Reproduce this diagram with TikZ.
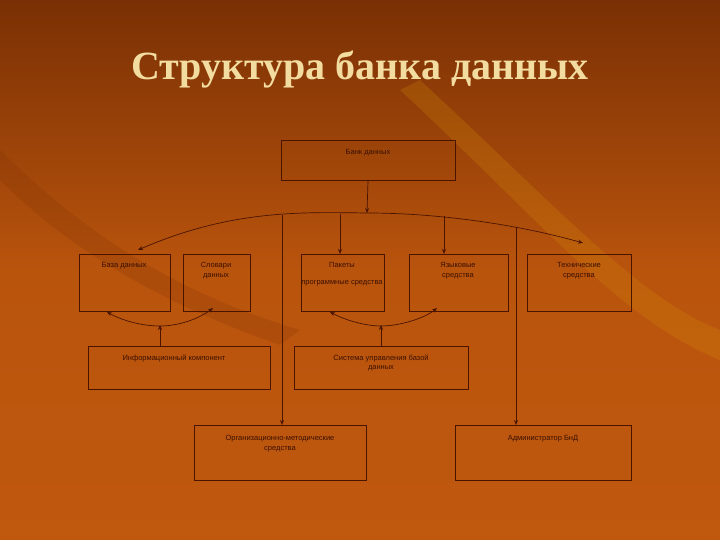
\documentclass[tikz,border=0pt]{standalone}
\usepackage{fontspec}
\setmainfont{Liberation Serif}
\newfontfamily\boxfont{Liberation Sans}
\usetikzlibrary{arrows.meta}
\definecolor{bgtop}{HTML}{7A3004}
\definecolor{bgbot}{HTML}{C0580E}
\definecolor{ln}{HTML}{4A1400}
\definecolor{ttl}{HTML}{F3DCA0}
\begin{document}
\begin{tikzpicture}[x=1pt,y=-1pt,
  bx/.style={draw=ln,line width=1pt,minimum height=0pt},
  tx/.style={font=\boxfont\fontsize{7.5}{9.5}\selectfont,text=ln!80!black,align=center},
  con/.style={draw=ln,line width=0.7pt},
  arr/.style={con,-{Stealth[length=5pt,width=4pt]}},
  darr/.style={con,{Stealth[length=5pt,width=4pt]}-{Stealth[length=5pt,width=4pt]}}]
\useasboundingbox (0,0) rectangle (720,540);
\shade[top color=bgtop,bottom color=bgbot,middle color=bgbot!90!bgtop] (0,0) rectangle (720,540);
\fill[bgbot!70!yellow,opacity=0.25] (420,80) .. controls (550,200) and (640,300) .. (720,330) -- (720,360) .. controls (620,320) and (540,220) .. (400,90) -- cycle;
\fill[bgtop,opacity=0.2] (0,150) .. controls (100,250) and (200,300) .. (300,330) -- (280,345) .. controls (180,310) and (80,260) .. (0,180) -- cycle;
\node[font=\fontsize{40}{44}\selectfont\bfseries,text=ttl] (title) at (360,70) {Структура банка данных};
% boxes
\draw[bx] (281,141) rectangle (455,181); \node[tx,anchor=north] (t0) at (368,146) {Банк данных};
\draw[bx] (79,254) rectangle (170,311); \node[tx,anchor=north] (tA) at (124,259) {База данных};
\draw[bx] (183,254) rectangle (250,311); \node[tx,anchor=north] (tB) at (216,259) {Словари\\данных};
\draw[bx] (301,254) rectangle (384,311); \node[tx,anchor=north] (tC) at (342,259) {Пакеты\\[7pt]программные средства};
\draw[bx] (409,254) rectangle (508,311); \node[tx,anchor=north] (tD) at (458,259) {Языковые\\средства};
\draw[bx] (527,254) rectangle (631,311); \node[tx,anchor=north] (tE) at (579,259) {Технические\\средства};
\draw[bx] (88,346) rectangle (270,389); \node[tx,anchor=north] (tF) at (174,351) {Информационный компонент};
\draw[bx] (294,346) rectangle (468,389); \node[tx,anchor=north] (tG) at (381,351) {Система управления базой\\данных};
\draw[bx] (194,425) rectangle (366,480); \node[tx,anchor=north] (tH) at (280,432) {Организационно-методические\\средства};
\draw[bx] (455,425) rectangle (631,480); \node[tx,anchor=north] (tI) at (543,432) {Администратор БнД};
% connectors
\coordinate (hub) at (367,213);
\draw[arr] (368,181) -- (hub);
\draw[darr] (138,250) .. controls (230,210) and (300,212) .. (hub) .. controls (440,213) and (520,225) .. (583,243);
\draw[arr] (340,214) -- (340,254);
\draw[arr] (444,216) -- (444,254);
\draw[arr] (282,215) -- (282,425);
\draw[arr] (516,227) -- (516,425);
\draw[darr] (107,312) .. controls (125,322) and (145,326) .. (160,326) .. controls (180,326) and (200,318) .. (213,308);
\draw[arr] (160,346) -- (160,325);
\draw[darr] (330,312) .. controls (345,320) and (365,326) .. (381,326) .. controls (400,326) and (425,318) .. (437,308);
\draw[arr] (381,346) -- (381,325);
\end{tikzpicture}
\end{document}
